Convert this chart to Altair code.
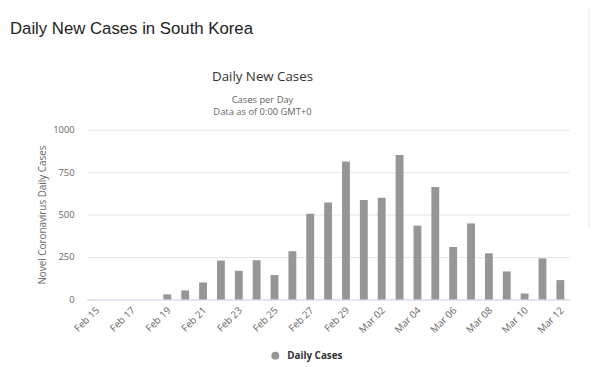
import altair as alt
import pandas as pd

# ---- data ----
dates = ["Feb 15", "Feb 16", "Feb 17", "Feb 18", "Feb 19", "Feb 20", "Feb 21",
         "Feb 22", "Feb 23", "Feb 24", "Feb 25", "Feb 26", "Feb 27", "Feb 28",
         "Feb 29", "Mar 01", "Mar 02", "Mar 03", "Mar 04", "Mar 05", "Mar 06",
         "Mar 07", "Mar 08", "Mar 09", "Mar 10", "Mar 11", "Mar 12"]
cases = [0, 0, 0, 0, 30, 53, 100, 229, 169, 231, 144, 284, 505, 571, 813,
         586, 599, 851, 435, 662, 309, 448, 272, 165, 35, 242, 114]
series_name = "Daily Cases"
x_tick_labels = dates[::2]
y_ticks = [0, 250, 500, 750, 1000]

page_title = "Daily New Cases in South Korea"
chart_title = "Daily New Cases"
subtitle_1 = "Cases per Day"
subtitle_2 = "Data as of 0:00 GMT+0"
y_title = "Novel Coronavirus Daily Cases"

df = pd.DataFrame({"date": dates, "cases": cases, "series": [series_name] * len(dates)})

FONT = "Open Sans"

bars = alt.Chart(df).mark_bar(color="#969696").encode(
    x=alt.X("date:N", sort=dates,
            scale=alt.Scale(paddingInner=0.56, paddingOuter=0.28),
            axis=alt.Axis(title=None, values=x_tick_labels, labelAngle=315,
                          labelAlign="right", labelBaseline="middle",
                          labelFont=FONT, labelFontSize=10, labelColor="#666666",
                          labelPadding=9, labelOffset=2, ticks=False,
                          domainColor="#ccd6eb", grid=False)),
    y=alt.Y("cases:Q", scale=alt.Scale(domain=[0, 1000], nice=False),
            axis=alt.Axis(title=y_title, values=y_ticks, format="d", ticks=False,
                          domain=False, gridColor="#e6e6e6", labelFont=FONT,
                          labelFontSize=9.5, labelColor="#666666", labelPadding=13,
                          titleFont=FONT, titleFontSize=10, titleFontWeight="normal",
                          titleColor="#666666", titleAngle=270, titleX=-45, titleY=86,
                          titleAlign="center", titleBaseline="middle")),
    color=alt.Color("series:N", scale=alt.Scale(domain=[series_name], range=["#969696"]),
                    legend=alt.Legend(title=None, orient="none", legendX=186, legendY=224,
                                      direction="horizontal", symbolType="circle",
                                      symbolSize=64, symbolStrokeWidth=0,
                                      labelFont=FONT, labelFontSize=10,
                                      labelFontWeight="bold", labelColor="#333333",
                                      labelOffset=7, padding=0)),
)


def text_layer(txt, x, y, size, color, font, align="center", weight="normal"):
    return alt.Chart(pd.DataFrame({"t": [txt]})).mark_text(
        font=font, fontSize=size, color=color, align=align, baseline="alphabetic",
        fontWeight=weight
    ).encode(text="t:N", x=alt.value(x), y=alt.value(y))


t0 = text_layer(page_title, -78, -97, 17, "#222222", "Liberation Sans", align="left")
t1 = text_layer(chart_title, 178, -49, 13.5, "#333333", FONT)
t2 = text_layer(subtitle_1, 178, -27, 9.5, "#666666", FONT)
t3 = text_layer(subtitle_2, 178, -15, 9.5, "#666666", FONT)

edge = alt.Chart(pd.DataFrame({"a": [0]})).mark_rule(color="#e6e6e6").encode(
    x=alt.value(509), y=alt.value(-129), y2=alt.value(100)
)

chart = alt.layer(bars, t0, t1, t2, t3, edge).properties(
    width=489, height=172,
    autosize=alt.AutoSizeParams(type="none"),
    padding={"left": 80, "top": 121, "right": 21, "bottom": 62},
).configure_view(stroke=None)

chart.save("out.html", embed_options={"renderer": "svg", "actions": False})
